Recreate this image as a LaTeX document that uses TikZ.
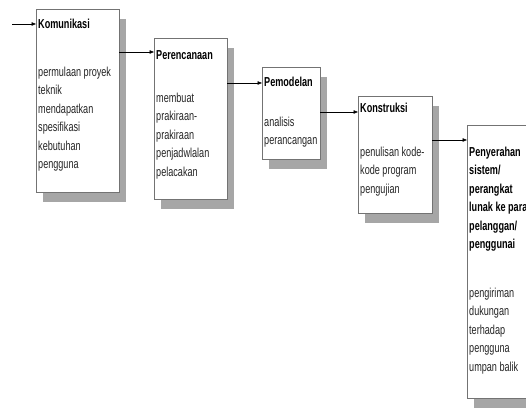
\documentclass[tikz,border=0pt]{standalone}
\usepackage{fontspec}
\newfontfamily\narrowsans{Liberation Sans}[FakeStretch=0.70]
\usetikzlibrary{shadows,arrows.meta}
\begin{document}
\begin{tikzpicture}[x=1pt,y=1pt,
  box/.style={draw=black!55, line width=0.6pt, fill=white, anchor=north west,
    inner sep=0pt, outer sep=0pt,
    drop shadow={shadow xshift=7pt, shadow yshift=-10pt, fill=black!35, opacity=1}},
  ttl/.style={anchor=north west, inner sep=0pt, align=left,
    font=\narrowsans\bfseries\fontsize{13}{18.5}\selectfont, text=black},
  bdy/.style={anchor=north west, inner sep=0pt, align=left,
    font=\narrowsans\fontsize{13}{18.5}\selectfont, text=black!85},
  arr/.style={-{Triangle[length=4.5pt,width=3.5pt]}, line width=0.6pt}]
\useasboundingbox (0,0) rectangle (526,409);
\clip (0,0) rectangle (526,409);

% boxes
\node[box, minimum width=83pt, minimum height=183pt] (b1) at (36,400) {};
\node[box, minimum width=73pt, minimum height=161pt] (b2) at (154,371) {};
\node[box, minimum width=58pt, minimum height=92pt]  (b3) at (262,342) {};
\node[box, minimum width=74pt, minimum height=117pt] (b4) at (358,313) {};
\node[box, minimum width=70pt, minimum height=273pt] (b5) at (467,284) {};

% titles
\node[ttl] (t1) at (38,394) {\strut Komunikasi};
\node[ttl] (t2) at (156,363) {\strut Perencanaan};
\node[ttl] (t3) at (264,336) {\strut Pemodelan};
\node[ttl] (t4) at (360,310) {\strut Konstruksi};
\node[ttl] (t5) at (469,266) {\strut Penyerahan\\sistem/\\perangkat\\lunak ke para\\pelanggan/\\penggunai};

% bodies
\node[bdy] (d1) at (38,346) {\strut permulaan proyek\\teknik\\mendapatkan\\spesifikasi\\kebutuhan\\pengguna};
\node[bdy] (d2) at (156,320) {\strut membuat\\prakiraan-\\prakiraan\\penjadwlalan\\pelacakan};
\node[bdy] (d3) at (264,296) {\strut analisis\\perancangan};
\node[bdy] (d4) at (360,266) {\strut penulisan kode-\\kode program\\pengujian};
\node[bdy] (d5) at (469,125) {\strut pengiriman\\dukungan\\terhadap\\pengguna\\umpan balik};

% arrows
\coordinate (s0) at (12,385);
\coordinate (y2) at (0,357);
\coordinate (y3) at (0,326);
\coordinate (y4) at (0,297);
\coordinate (y5) at (0,269);
\draw[arr] (s0) -- (s0 -| b1.west);
\draw[arr] (b1.east |- y2) -- (b2.west |- y2);
\draw[arr] (b2.east |- y3) -- (b3.west |- y3);
\draw[arr] (b3.east |- y4) -- (b4.west |- y4);
\draw[arr] (b4.east |- y5) -- (b5.west |- y5);
\end{tikzpicture}
\end{document}
